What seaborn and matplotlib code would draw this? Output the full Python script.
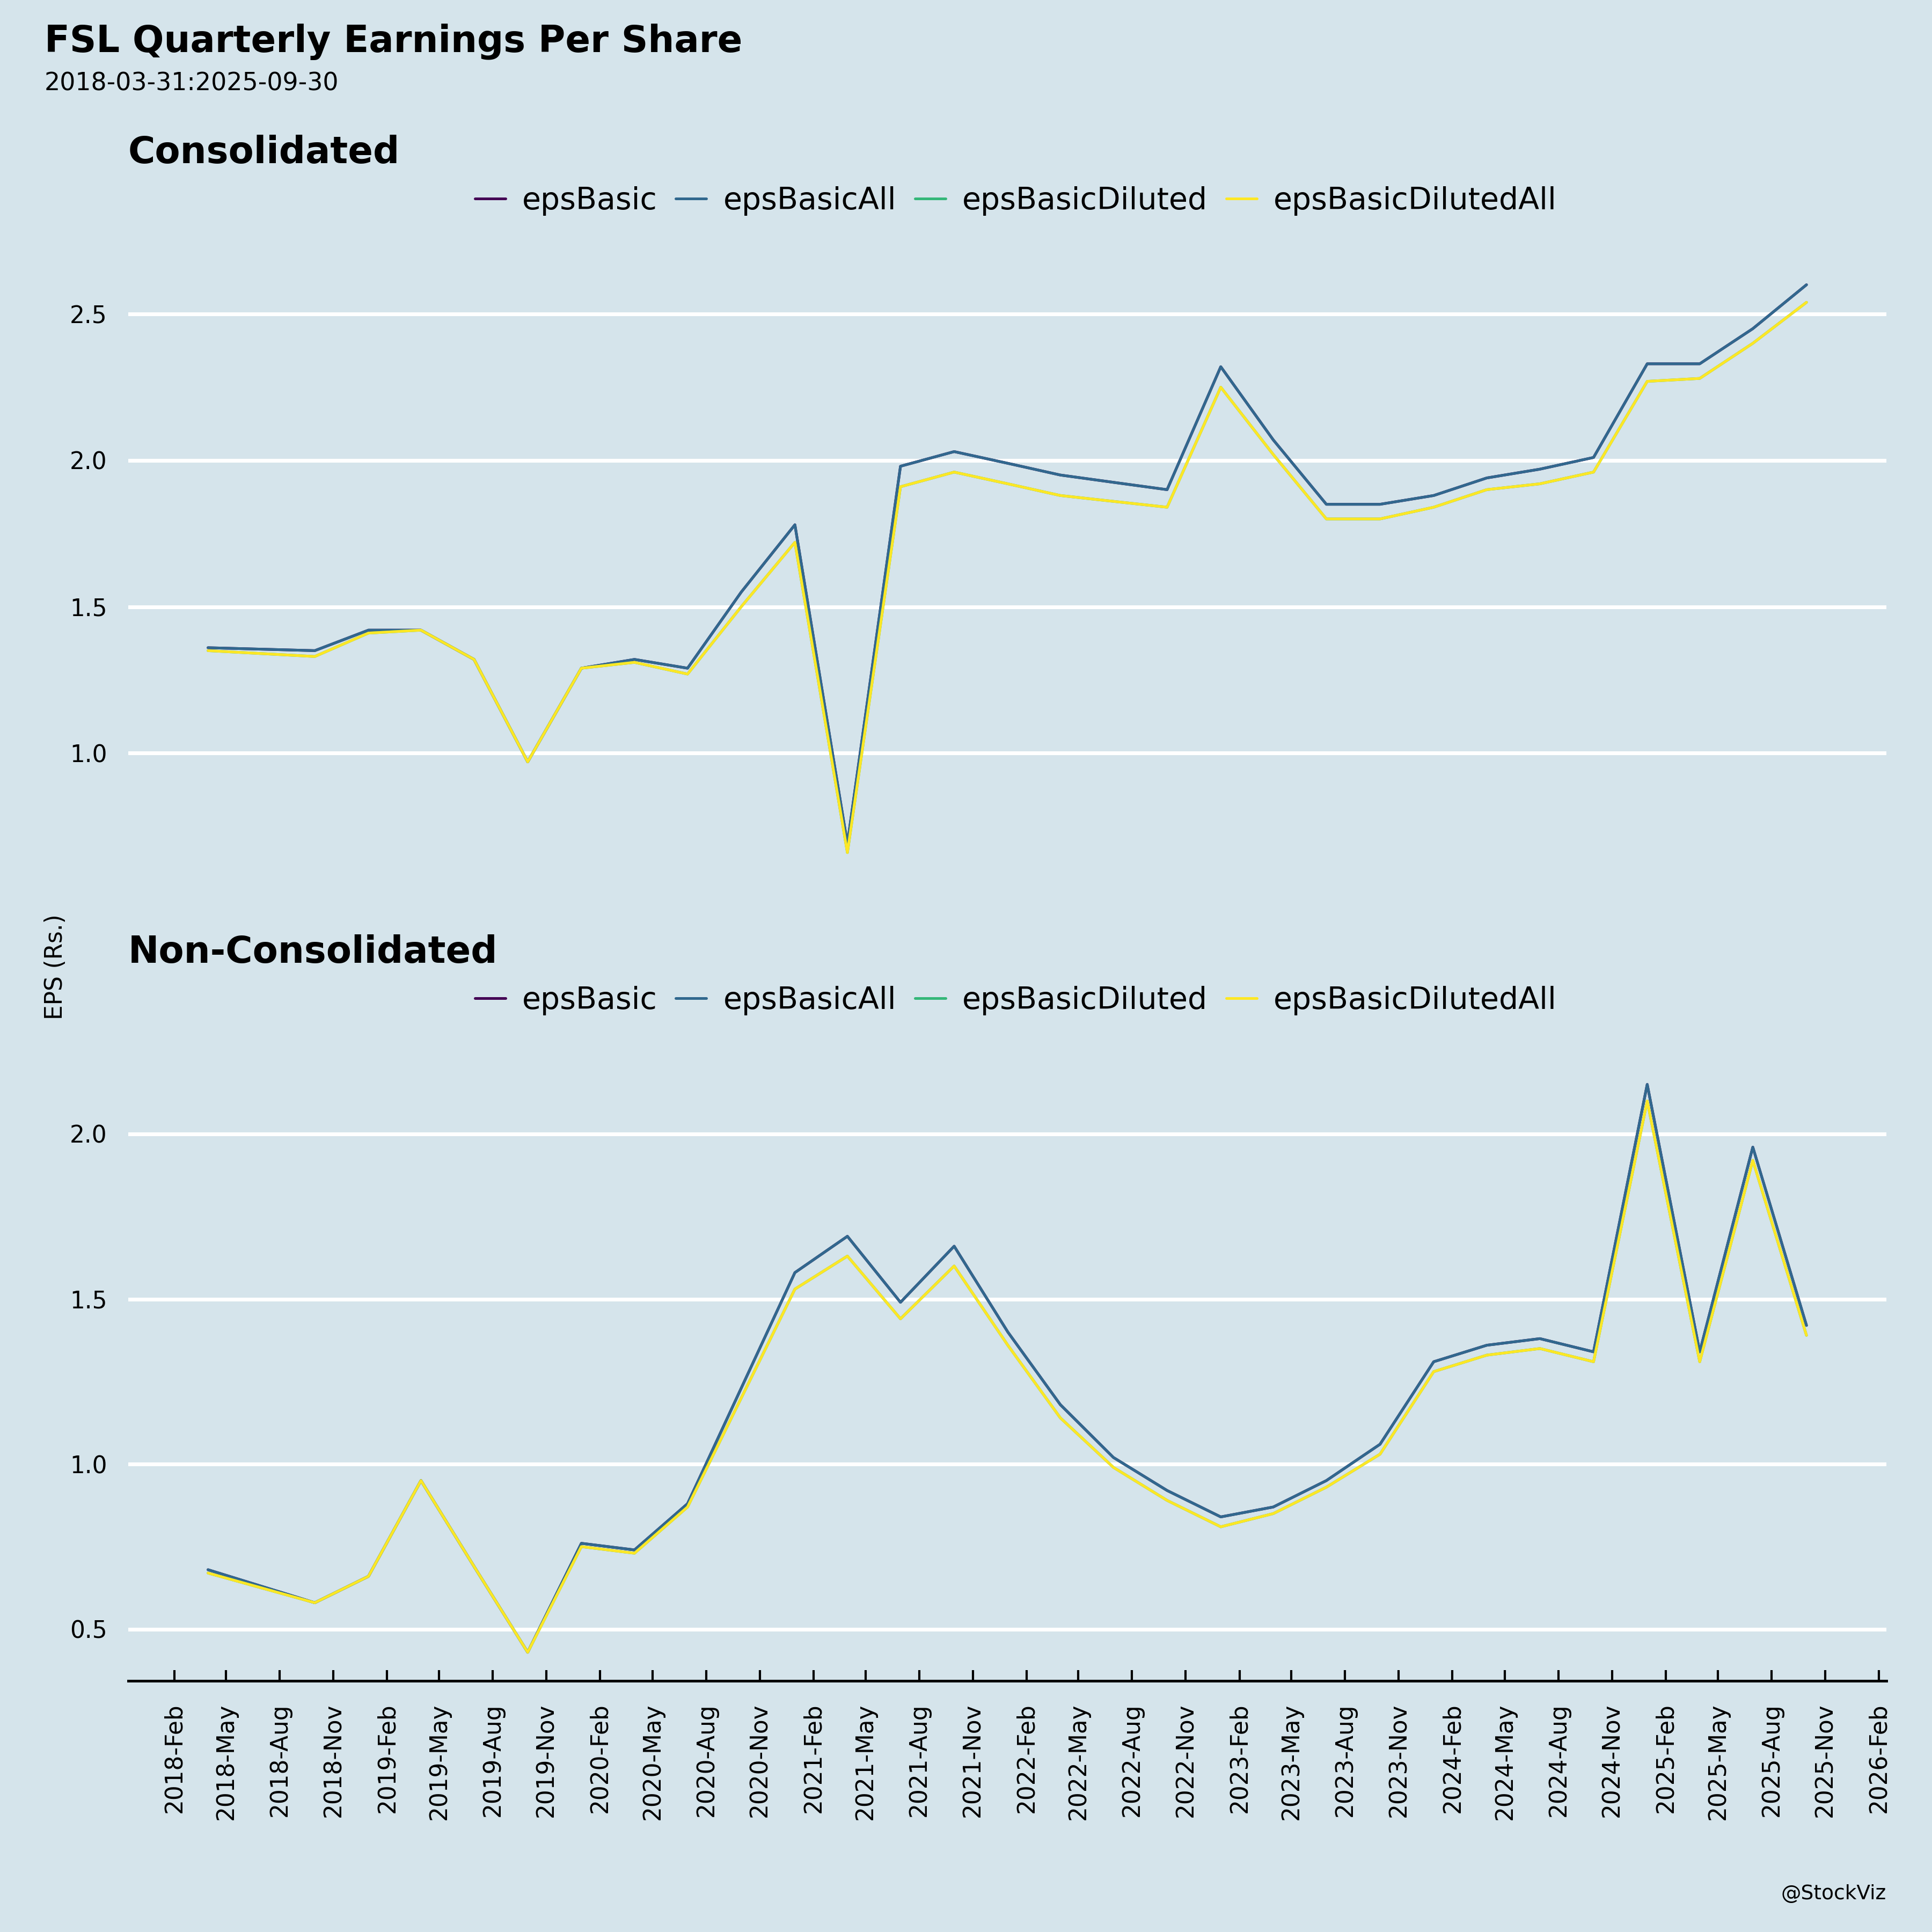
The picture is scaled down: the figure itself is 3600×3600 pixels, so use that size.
import numpy as np
import pandas as pd
import seaborn as sns
import matplotlib.pyplot as plt
import matplotlib.dates as mdates
from matplotlib.ticker import MultipleLocator

# trimestri (giugno 2018 assente)
quarters = ['2018-03-31', '2018-09-30', '2018-12-31',
            '2019-03-31', '2019-06-30', '2019-09-30', '2019-12-31',
            '2020-03-31', '2020-06-30', '2020-09-30', '2020-12-31',
            '2021-03-31', '2021-06-30', '2021-09-30', '2021-12-31',
            '2022-03-31', '2022-06-30', '2022-09-30', '2022-12-31',
            '2023-03-31', '2023-06-30', '2023-09-30', '2023-12-31',
            '2024-03-31', '2024-06-30', '2024-09-30', '2024-12-31',
            '2025-03-31', '2025-06-30', '2025-09-30']

cons_basic_all = [1.36, 1.35, 1.42, 1.42, 1.32, 0.97, 1.29, 1.32, 1.29, 1.55,
                  1.78, 0.69, 1.98, 2.03, 1.99, 1.95, 1.925, 1.90, 2.32, 2.07,
                  1.85, 1.85, 1.88, 1.94, 1.97, 2.01, 2.33, 2.33, 2.45, 2.60]
cons_diluted_all = [1.35, 1.33, 1.41, 1.42, 1.32, 0.97, 1.29, 1.31, 1.27, 1.50,
                    1.72, 0.66, 1.91, 1.96, 1.92, 1.88, 1.86, 1.84, 2.25, 2.02,
                    1.80, 1.80, 1.84, 1.90, 1.92, 1.96, 2.27, 2.28, 2.40, 2.54]
# epsBasic / epsBasicDiluted coincidono con le serie "All"
cons_basic = cons_basic_all
cons_diluted = cons_diluted_all

solo_basic_all = [0.68, 0.58, 0.66, 0.95, 0.69, 0.43, 0.76, 0.74, 0.88, 1.23,
                  1.58, 1.69, 1.49, 1.66, 1.40, 1.18, 1.02, 0.92, 0.84, 0.87,
                  0.95, 1.06, 1.31, 1.36, 1.38, 1.34, 2.15, 1.34, 1.96, 1.42]
solo_diluted_all = [0.67, 0.58, 0.66, 0.95, 0.69, 0.43, 0.75, 0.73, 0.87, 1.20,
                    1.53, 1.63, 1.44, 1.60, 1.36, 1.14, 0.99, 0.89, 0.81, 0.85,
                    0.93, 1.03, 1.28, 1.33, 1.35, 1.31, 2.10, 1.31, 1.92, 1.39]
solo_basic = solo_basic_all
solo_diluted = solo_diluted_all

metrics = ['epsBasic', 'epsBasicAll', 'epsBasicDiluted', 'epsBasicDilutedAll']
colors = [tuple(c) for c in plt.cm.viridis(np.linspace(0, 1, 4))]
bg = '#d5e4eb'


def long_df(series):
    rows = []
    for name, vals in zip(metrics, series):
        rows.append(pd.DataFrame({'date': pd.to_datetime(quarters), 'metric': name, 'value': vals}))
    return pd.concat(rows, ignore_index=True)


df_cons = long_df([cons_basic, cons_basic_all, cons_diluted, cons_diluted_all])
df_solo = long_df([solo_basic, solo_basic_all, solo_diluted, solo_diluted_all])

sns.set_theme(style='white', rc={'figure.facecolor': bg, 'axes.facecolor': bg,
                                 'text.color': 'black', 'xtick.color': 'black',
                                 'ytick.color': 'black', 'axes.labelcolor': 'black'})
plt.rcParams['font.family'] = ['DejaVu Sans']

fig = plt.figure(figsize=(12, 12), dpi=300)
ax1 = fig.add_axes([0.0663, 0.544, 0.9101, 0.3233])
ax2 = fig.add_axes([0.0663, 0.1301, 0.9101, 0.3233], sharex=ax1)

for ax, df, title, ty, ly in [(ax1, df_cons, 'Consolidated', 0.921, 0.896),
                              (ax2, df_solo, 'Non-Consolidated', 0.507, 0.482)]:
    sns.lineplot(data=df, x='date', y='value', hue='metric', hue_order=metrics,
                 palette=colors, linewidth=1.2, ax=ax)
    ax.set_facecolor(bg)
    ax.set_axisbelow(True)
    ax.yaxis.grid(True, color='white', linewidth=1.7)
    ax.xaxis.grid(False)
    for s in ax.spines.values():
        s.set_visible(False)
    ax.yaxis.set_major_locator(MultipleLocator(0.5))
    ax.tick_params(axis='y', length=0, pad=9.4, labelsize=10.5, labelcolor='black')
    ax.set_xlabel('')
    ax.set_ylabel('')
    handles, labels = ax.get_legend_handles_labels()
    ax.legend(handles, labels, loc='center', bbox_to_anchor=(0.5258, ly),
              bbox_transform=fig.transFigure, ncol=4, frameon=False,
              fontsize=13.7, handlelength=1.0, handletextpad=0.55,
              columnspacing=0.6)
    fig.text(0.0663, ty, title, fontsize=16.5, fontweight='bold', va='center', ha='left')

ax2.xaxis.set_major_locator(mdates.MonthLocator(bymonth=[2, 5, 8, 11]))
ax2.xaxis.set_major_formatter(mdates.DateFormatter('%Y-%b'))
ax2.spines['bottom'].set_visible(True)
ax2.spines['bottom'].set_color('black')
ax2.spines['bottom'].set_linewidth(1.2)
ax2.tick_params(axis='x', bottom=True, direction='in', length=4.9, width=1.0,
                color='black', pad=10, labelsize=10.5, labelrotation=90,
                labelcolor='black')
ax1.tick_params(axis='x', bottom=False, length=0, labelbottom=False)

fig.text(0.023, 0.9783, 'FSL Quarterly Earnings Per Share', fontsize=16.5,
         fontweight='bold', va='center', ha='left')
fig.text(0.023, 0.9566, '2018-03-31:2025-09-30', fontsize=11, va='center', ha='left')
fig.text(0.0287, 0.4994, 'EPS (Rs.)', fontsize=10.5, rotation=90, va='center', ha='center')
fig.text(0.9764, 0.0198, '@StockViz', fontsize=9, va='center', ha='right')

fig.savefig('out.png', dpi=300, facecolor=bg)
